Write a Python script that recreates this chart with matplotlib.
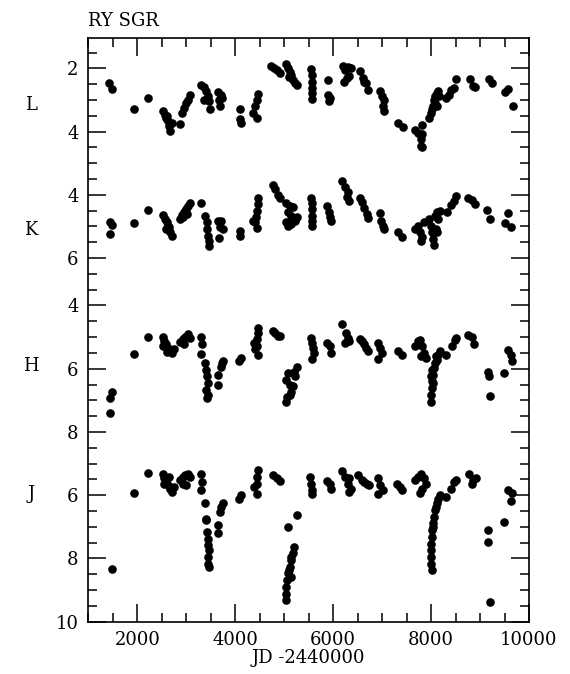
import matplotlib
matplotlib.use("Agg")
import matplotlib.pyplot as plt
from matplotlib.ticker import MultipleLocator, FixedLocator

# (JD-2440000, magnitude) per band
L_points = [
    (1430, 2.45), (1481, 2.66), (1941, 3.28), (2222, 2.94),
    (2533, 3.35), (2570, 3.46), (2593, 3.56), (2630, 3.67), (2644, 3.82), (2667, 3.98),
    (2615, 3.51), (2704, 3.72), (2874, 3.77),
    (2904, 3.41), (2963, 3.25), (3000, 3.09), (3037, 2.99), (3074, 2.83),
    (3311, 2.52), (3370, 2.59), (3407, 2.73), (3444, 2.89), (3459, 3.04), (3481, 3.30), (3356, 2.99),
    (3652, 2.76), (3704, 2.83), (3667, 2.99), (3726, 2.94), (3681, 3.20),
    (4089, 3.28), (4089, 3.61), (4111, 3.72),
    (4467, 2.81), (4444, 2.99), (4407, 3.20), (4370, 3.41), (4444, 3.56),
    (4741, 1.92), (4793, 2.00), (4852, 2.05), (4911, 2.14),
    (5037, 1.86), (5074, 2.00), (5111, 2.10), (5148, 2.21), (5185, 2.36), (5222, 2.47),
    (5259, 2.52), (5089, 2.26),
    (5556, 2.03), (5563, 2.21), (5570, 2.42), (5578, 2.63), (5578, 2.78), (5578, 2.97),
    (5889, 2.36), (5904, 2.83), (5926, 2.94), (5911, 3.04),
    (6200, 1.92), (6244, 2.05), (6296, 1.95), (6370, 2.00), (6222, 2.42), (6274, 2.31), (6333, 2.24),
    (6556, 2.07), (6615, 2.31), (6667, 2.45), (6704, 2.68), (6630, 2.42),
    (6963, 2.73), (7000, 2.89), (7037, 2.99), (7015, 3.20), (7037, 3.35),
    (7333, 3.74), (7430, 3.84),
    (7667, 3.95), (7741, 4.03), (7815, 4.08), (7800, 4.24), (7800, 4.45), (7815, 4.50), (7815, 3.80),
    (7963, 3.56), (8000, 3.41), (8037, 3.20), (8052, 2.99), (8074, 2.89), (8111, 2.78),
    (8148, 2.73), (8170, 2.89), (8074, 3.09), (8111, 3.20), (8022, 3.30),
    (8296, 2.94), (8370, 2.83), (8407, 2.68), (8467, 2.63), (8504, 2.34),
    (8793, 2.34), (8852, 2.55), (8889, 2.59),
    (9185, 2.34), (9237, 2.47),
    (9519, 2.76), (9578, 2.66), (9667, 3.20),
]

K_points = [
    (1444, 4.87), (1481, 4.96), (1444, 5.24), (1941, 4.89), (2222, 4.47),
    (2533, 4.64), (2570, 4.77), (2615, 4.87), (2644, 5.03), (2667, 5.19), (2704, 5.30),
    (2593, 5.09), (2630, 4.98),
    (2867, 4.77), (2911, 4.64), (2963, 4.55), (3000, 4.45), (3037, 4.34), (3074, 4.26),
    (2926, 4.71), (3015, 4.61),
    (3311, 4.26),
    (3385, 4.66), (3415, 4.87), (3430, 5.09), (3444, 5.30), (3459, 5.46), (3474, 5.62),
    (3652, 4.82), (3681, 5.03), (3704, 4.82), (3741, 5.09), (3667, 5.38),
    (4089, 5.14), (4096, 5.30),
    (4467, 4.11), (4459, 4.29), (4444, 4.50), (4430, 4.71), (4407, 4.87), (4444, 5.06), (4355, 4.82),
    (4763, 3.68), (4815, 3.83), (4867, 4.02), (4911, 4.11),
    (5037, 4.26), (5111, 4.34), (5185, 4.39), (5074, 4.55), (5148, 4.66), (5259, 4.71),
    (5037, 4.87), (5148, 4.93), (5222, 4.82), (5074, 4.98),
    (5556, 4.11), (5570, 4.26), (5578, 4.45), (5578, 4.66), (5578, 4.82), (5578, 5.00),
    (5874, 4.36), (5911, 4.55), (5926, 4.71), (5948, 4.82),
    (6185, 3.57), (6244, 3.76), (6296, 3.91), (6274, 4.07), (6319, 4.18),
    (6541, 4.11), (6593, 4.23), (6630, 4.43), (6689, 4.61), (6719, 4.73),
    (6948, 4.59), (6985, 4.82), (7015, 4.98), (7037, 5.09),
    (7333, 5.16), (7407, 5.32),
    (7681, 5.09), (7741, 4.98), (7778, 5.19), (7815, 5.32), (7800, 5.46), (7852, 4.85),
    (7963, 4.77), (8000, 4.98), (8022, 5.19), (8037, 5.40), (8052, 5.60), (8074, 4.66),
    (8111, 4.55), (8148, 4.77), (8185, 4.50), (8096, 5.09), (8126, 5.19),
    (8319, 4.53), (8407, 4.32), (8467, 4.18), (8504, 4.04),
    (8763, 4.11), (8837, 4.15), (8889, 4.29),
    (9148, 4.47), (9207, 4.77),
    (9504, 4.89), (9578, 4.57), (9630, 5.03),
]

H_points = [
    (1444, 7.41), (1444, 6.94), (1481, 6.72),
    (1941, 5.53), (2222, 4.99),
    (2518, 4.99), (2556, 5.13), (2593, 5.23), (2630, 5.34), (2667, 5.45), (2704, 5.50),
    (2741, 5.39), (2533, 5.29), (2615, 5.48),
    (2867, 5.16), (2926, 5.07), (2985, 4.99), (3037, 4.91), (3074, 5.02), (2963, 5.23),
    (3296, 4.99), (3318, 5.23), (3311, 5.52),
    (3385, 5.82), (3407, 6.03), (3430, 6.24), (3444, 6.46), (3407, 6.67), (3444, 6.83), (3430, 6.94),
    (3652, 6.19), (3652, 6.51), (3704, 5.93), (3726, 5.82), (3741, 5.77),
    (4074, 5.77), (4111, 5.66),
    (4467, 4.70), (4459, 4.86), (4452, 5.07), (4437, 5.29), (4407, 5.39), (4385, 5.18), (4467, 5.55),
    (4778, 4.80), (4815, 4.88), (4867, 4.95), (4911, 4.98),
    (5037, 6.35), (5074, 6.14), (5111, 6.51), (5148, 6.72), (5185, 6.56), (5222, 6.24),
    (5259, 5.95), (5059, 6.88), (5037, 7.04), (5111, 6.83), (5207, 6.09),
    (5556, 5.02), (5578, 5.18), (5593, 5.34), (5607, 5.50), (5578, 5.69),
    (5874, 5.18), (5926, 5.29), (5963, 5.50),
    (6185, 4.60), (6259, 4.86), (6296, 5.02), (6244, 5.18), (6333, 5.13),
    (6541, 5.07), (6593, 5.13), (6630, 5.23), (6667, 5.34), (6719, 5.45),
    (6926, 5.18), (6963, 5.34), (7000, 5.50), (6911, 5.69),
    (7333, 5.45), (7407, 5.55),
    (7667, 5.29), (7726, 5.13), (7778, 5.10), (7815, 5.27), (7852, 5.50), (7889, 5.66), (7800, 5.61),
    (8000, 7.04), (8007, 6.83), (8015, 6.61), (8022, 6.40), (8037, 6.19), (8052, 5.98),
    (8074, 5.82), (8111, 5.71), (8148, 5.55), (8185, 5.45), (8096, 5.61), (8037, 6.46),
    (8000, 6.24), (8022, 6.03),
    (8296, 5.55),
    (8422, 5.27), (8481, 5.10), (8519, 5.02),
    (8763, 4.93), (8837, 4.99), (8867, 5.23),
    (9163, 6.09), (9185, 6.24), (9200, 6.86),
    (9481, 6.12),
    (9578, 5.41), (9630, 5.55), (9652, 5.77),
]

J_points = [
    (1481, 8.32), (1941, 5.92), (2222, 5.29),
    (2518, 5.34), (2556, 5.47), (2593, 5.58), (2630, 5.68), (2667, 5.79), (2704, 5.89),
    (2741, 5.74), (2556, 5.63), (2644, 5.42),
    (2867, 5.53), (2926, 5.42), (2985, 5.37), (3037, 5.32), (3074, 5.42), (3000, 5.68), (2926, 5.63),
    (3296, 5.34), (3318, 5.58), (3296, 5.84),
    (3385, 6.24), (3400, 6.74), (3407, 6.79), (3430, 7.16), (3444, 7.37), (3444, 7.58),
    (3459, 7.74), (3444, 7.95), (3444, 8.16), (3459, 8.28),
    (3652, 6.95), (3652, 7.21), (3689, 6.53), (3704, 6.37), (3741, 6.26),
    (4074, 6.11), (4111, 6.00),
    (4467, 5.21), (4452, 5.42), (4437, 5.63), (4393, 5.74), (4444, 5.95),
    (4778, 5.37), (4852, 5.47), (4911, 5.55),
    (5074, 7.00), (5259, 6.63), (5207, 7.63), (5185, 7.84), (5148, 8.05), (5111, 8.26),
    (5074, 8.47), (5059, 8.68), (5037, 8.89), (5037, 9.11), (5037, 9.32), (5089, 8.37),
    (5148, 8.58), (5133, 7.95),
    (5533, 5.42), (5556, 5.63), (5563, 5.84), (5578, 5.97),
    (5874, 5.55), (5926, 5.63), (5963, 5.79),
    (6185, 5.23), (6244, 5.42), (6296, 5.63), (6333, 5.47), (6370, 5.79), (6319, 5.89),
    (6518, 5.37), (6593, 5.51), (6630, 5.58), (6689, 5.63), (6741, 5.68),
    (6926, 5.47), (6963, 5.68), (7015, 5.84), (6911, 5.95),
    (7311, 5.65), (7370, 5.74), (7407, 5.84),
    (7667, 5.53), (7741, 5.42), (7800, 5.32), (7852, 5.47), (7889, 5.63), (7815, 5.79), (7778, 5.93),
    (8022, 8.37), (8007, 8.16), (8000, 7.95), (8000, 7.74), (8000, 7.53), (8015, 7.32),
    (8022, 7.11), (8037, 6.89), (8052, 6.68), (8074, 6.47), (8111, 6.26), (8148, 6.11),
    (8185, 6.00), (8096, 6.37), (8037, 7.00),
    (8296, 6.05),
    (8407, 5.79), (8467, 5.58), (8519, 5.53),
    (8778, 5.34), (8852, 5.51), (8911, 5.47), (8837, 5.65),
    (9163, 7.11), (9163, 7.47), (9207, 9.37),
    (9481, 6.86),
    (9578, 5.84), (9652, 5.93), (9630, 6.18),
]

bands = ["L", "K", "H", "J"]
band_data = [L_points, K_points, H_points, J_points]
band_offsets = [0.0, 2.0, 5.5, 9.5]

# tick values shown for each band
L_ticks = [2, 4]
K_ticks = [4, 6]
H_ticks = [4, 6, 8]
J_ticks = [6, 8, 10]
band_ticks = [L_ticks, K_ticks, H_ticks, J_ticks]

x_ticks = [2000, 4000, 6000, 8000, 10000]

plt.rcParams["font.family"] = ["DejaVu Serif"]

fig = plt.figure(figsize=(5.70, 6.74), dpi=100)
ax = fig.add_axes([88.3 / 570, 1 - 621.7 / 674, (529 - 88.3) / 570, (621.7 - 38.3) / 674])

for pts, off in zip(band_data, band_offsets):
    xs = [p[0] for p in pts]
    ys = [p[1] + off for p in pts]
    ax.plot(xs, ys, "o", color="black", markersize=6.2, markeredgewidth=0)

ax.set_xlim(1000, 10000)
ax.set_ylim(19.5, 1.05)

ypos, ylab = [], []
for ticks, off in zip(band_ticks, band_offsets):
    for t in ticks:
        ypos.append(t + off)
        ylab.append(str(t))
ax.yaxis.set_major_locator(FixedLocator(ypos))
ax.set_yticklabels(ylab)
ax.yaxis.set_minor_locator(MultipleLocator(0.5))

ax.xaxis.set_major_locator(FixedLocator(x_ticks))
ax.set_xticklabels([str(v) for v in x_ticks])
ax.xaxis.set_minor_locator(MultipleLocator(500))

ax.tick_params(which="both", direction="in", top=True, right=True, width=1.1, colors="black")
ax.tick_params(which="major", length=13, pad=7, labelsize=13)
ax.tick_params(which="minor", length=6.5)
for s in ax.spines.values():
    s.set_linewidth(1.2)

ax.set_xlabel("JD -2440000", fontsize=13, labelpad=0)

fig.text(88 / 570, 1 - 21 / 674, "RY SGR", fontsize=13, ha="left", va="center")

band_label_y = [105, 230, 366, 494]
for name, yy in zip(bands, band_label_y):
    fig.text(31 / 570, 1 - yy / 674, name, fontsize=13, ha="center", va="center")

fig.savefig("out.png", dpi=100)
